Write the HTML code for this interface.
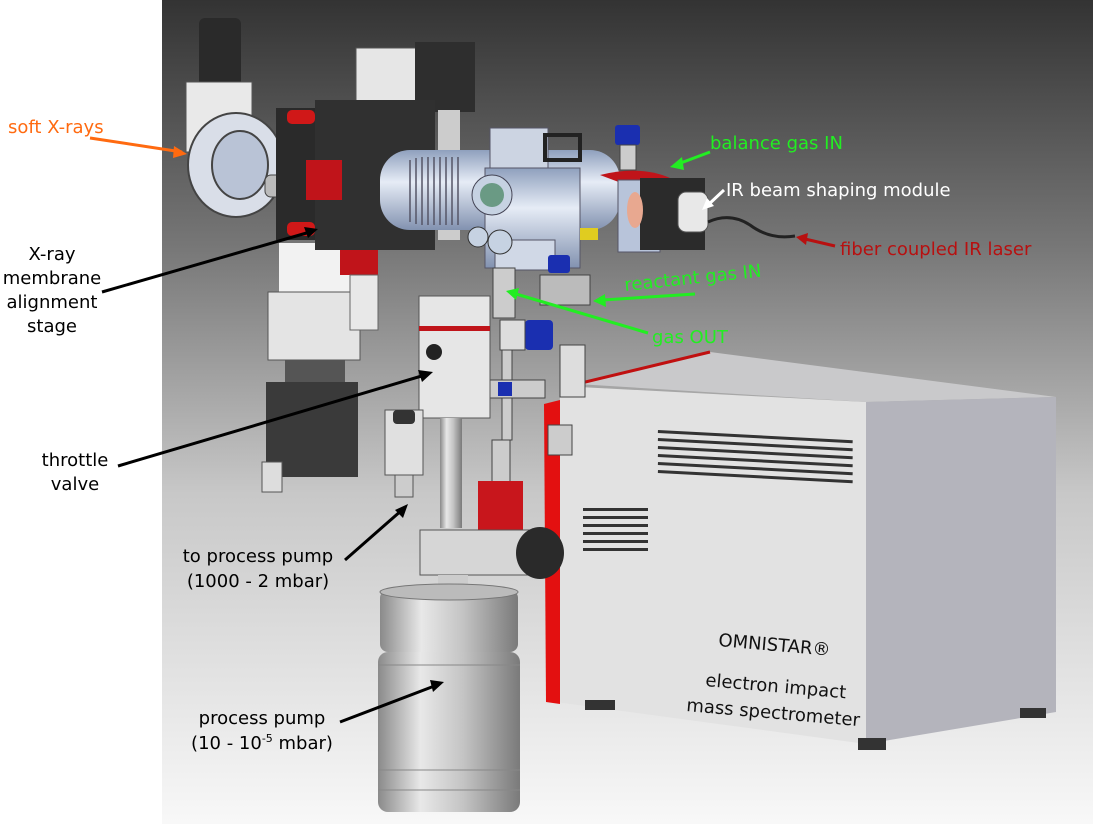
<!DOCTYPE html>
<html><head><meta charset="utf-8"><style>
html,body{margin:0;padding:0;background:#fff}
svg{display:block}
text{font-family:"DejaVu Sans","Liberation Sans",sans-serif;font-size:18px}
</style></head><body>
<svg width="1093" height="824" viewBox="0 0 1093 824" xmlns="http://www.w3.org/2000/svg">
<defs>
<linearGradient id="bg" x1="0" y1="0" x2="0" y2="1">
<stop offset="0" stop-color="#333"/><stop offset="0.3" stop-color="#777"/><stop offset="0.6" stop-color="#c8c8c8"/><stop offset="1" stop-color="#f8f8f8"/></linearGradient>
<linearGradient id="cyl" x1="0" y1="0" x2="1" y2="0">
<stop offset="0" stop-color="#8a8a8a"/><stop offset="0.3" stop-color="#e8e8e8"/><stop offset="0.6" stop-color="#c4c4c4"/><stop offset="1" stop-color="#7a7a7a"/></linearGradient>
<linearGradient id="tube" x1="0" y1="0" x2="0" y2="1">
<stop offset="0" stop-color="#8fa0bd"/><stop offset="0.4" stop-color="#e6ecf6"/><stop offset="1" stop-color="#8292b0"/></linearGradient>
</defs>
<rect x="162" y="0" width="931" height="824" fill="url(#bg)"/>

<!-- mass spectrometer -->
<polygon points="577,384 710,352 1056,397 866,402" fill="#c9c9cb"/>
<polygon points="560,386 866,402 866,744 556,702" fill="#e2e2e2"/>
<polygon points="866,402 1056,397 1056,712 866,744" fill="#b4b4bc"/>
<polygon points="544,404 560,400 560,704 546,702" fill="#e31010"/>
<line x1="577" y1="384" x2="710" y2="352" stroke="#c01010" stroke-width="3"/>
<rect x="585" y="700" width="30" height="10" fill="#333"/><rect x="858" y="738" width="28" height="12" fill="#333"/><rect x="1020" y="708" width="26" height="10" fill="#333"/>
<g fill="#333">
<rect x="658" y="430" width="195" height="3" transform="rotate(3 658 430)"/><rect x="658" y="438" width="195" height="3" transform="rotate(3 658 438)"/><rect x="658" y="446" width="195" height="3" transform="rotate(3 658 446)"/><rect x="658" y="454" width="195" height="3" transform="rotate(3 658 454)"/><rect x="658" y="462" width="195" height="3" transform="rotate(3 658 462)"/><rect x="658" y="470" width="195" height="3" transform="rotate(3 658 470)"/>
<rect x="583" y="508" width="65" height="3"/><rect x="583" y="516" width="65" height="3"/><rect x="583" y="524" width="65" height="3"/><rect x="583" y="532" width="65" height="3"/><rect x="583" y="540" width="65" height="3"/><rect x="583" y="548" width="65" height="3"/>
</g>

<!-- left column & blocks -->
<rect x="279" y="243" width="77" height="60" fill="#f2f2f2"/>
<rect x="268" y="292" width="92" height="68" fill="#e4e4e4" stroke="#555"/>
<rect x="285" y="360" width="60" height="25" fill="#555"/>
<rect x="266" y="382" width="92" height="95" fill="#3a3a3a"/>
<rect x="262" y="462" width="20" height="30" fill="#ddd" stroke="#555"/>
<rect x="340" y="240" width="38" height="35" fill="#c0141a"/>
<rect x="350" y="275" width="28" height="55" fill="#e8e8e8" stroke="#666"/>

<rect x="356" y="48" width="90" height="60" fill="#e6e6e6" stroke="#555"/>
<rect x="415" y="42" width="60" height="70" fill="#2e2e2e"/>
<rect x="199" y="18" width="42" height="70" rx="6" fill="#2a2a2a"/>
<rect x="186" y="82" width="66" height="70" fill="#e9e9e9" stroke="#555"/>
<ellipse cx="236" cy="165" rx="48" ry="52" fill="#d9dee8" stroke="#444" stroke-width="2"/>
<ellipse cx="240" cy="165" rx="28" ry="34" fill="#b9c3d6" stroke="#444" stroke-width="2"/>
<rect x="265" y="175" width="45" height="22" rx="6" fill="#bbb" stroke="#444"/>
<rect x="276" y="108" width="45" height="132" fill="#2a2a2a"/>
<rect x="315" y="100" width="120" height="150" fill="#303030"/>
<rect x="306" y="160" width="36" height="40" fill="#c0141a"/>
<rect x="287" y="110" width="28" height="14" rx="5" fill="#d01818"/>
<rect x="287" y="222" width="28" height="14" rx="5" fill="#d01818"/>
<rect x="438" y="110" width="22" height="130" fill="#ccc"/>

<!-- chamber -->
<rect x="380" y="150" width="240" height="80" rx="30" fill="url(#tube)"/>
<g stroke="#556" stroke-width="1.5"><line x1="410" y1="160" x2="410" y2="222"/><line x1="416" y1="158" x2="416" y2="224"/><line x1="422" y1="157" x2="422" y2="225"/><line x1="428" y1="157" x2="428" y2="225"/><line x1="434" y1="157" x2="434" y2="225"/><line x1="440" y1="157" x2="440" y2="225"/><line x1="446" y1="157" x2="446" y2="225"/><line x1="452" y1="157" x2="452" y2="225"/><line x1="458" y1="157" x2="458" y2="225"/></g>
<rect x="490" y="128" width="58" height="40" fill="#ccd4e2" stroke="#556"/>
<rect x="485" y="168" width="95" height="100" fill="url(#tube)" stroke="#556"/>
<circle cx="492" cy="195" r="20" fill="#c6d2e2" stroke="#445"/><circle cx="492" cy="195" r="12" fill="#6a9a84"/>
<rect x="495" y="240" width="60" height="30" fill="#d0d8e6" stroke="#556"/>
<circle cx="500" cy="242" r="12" fill="#c6d2e2" stroke="#333"/><circle cx="478" cy="237" r="10" fill="#c6d2e2" stroke="#333"/>
<rect x="580" y="228" width="18" height="12" fill="#e0cc20"/>
<path d="M600,175 Q640,165 670,178 L640,190z" fill="#c0141a"/>
<rect x="618" y="180" width="42" height="72" fill="#b8c4da" stroke="#556"/>
<rect x="640" y="178" width="65" height="72" fill="#2b2b2b"/>
<rect x="678" y="192" width="30" height="40" rx="8" fill="#e8e8e8" stroke="#555"/>
<ellipse cx="635" cy="210" rx="8" ry="18" fill="#e8a890"/>
<path d="M708,222 Q730,212 750,225 Q770,240 795,236" fill="none" stroke="#222" stroke-width="3"/>
<rect x="615" y="125" width="25" height="20" rx="3" fill="#1a2fb0"/>
<rect x="620" y="145" width="16" height="25" fill="#ccc" stroke="#444"/>
<rect x="545" y="135" width="35" height="25" fill="none" stroke="#222" stroke-width="4"/>

<rect x="493" y="268" width="22" height="50" fill="#ccc" stroke="#444"/>
<rect x="548" y="255" width="22" height="18" rx="3" fill="#1a2fb0"/>
<rect x="540" y="275" width="50" height="30" fill="#bbb" stroke="#444"/>
<rect x="525" y="320" width="28" height="30" rx="4" fill="#1a2fb0"/>
<rect x="500" y="320" width="25" height="30" fill="#ddd" stroke="#444"/>
<rect x="560" y="345" width="25" height="52" fill="#ddd" stroke="#444"/>
<rect x="502" y="350" width="10" height="90" fill="#ccc" stroke="#444"/>
<rect x="485" y="380" width="60" height="18" fill="#ccc" stroke="#444"/>
<rect x="498" y="382" width="14" height="14" fill="#1a2fb0"/>
<rect x="419" y="296" width="71" height="122" fill="#e6e6e6" stroke="#555"/>
<rect x="419" y="326" width="71" height="5" fill="#c0141a"/>
<circle cx="434" cy="352" r="8" fill="#222"/>
<rect x="440" y="418" width="22" height="110" fill="url(#cyl)"/>
<rect x="385" y="410" width="38" height="65" fill="#e0e0e0" stroke="#555"/>
<rect x="393" y="410" width="22" height="14" rx="4" fill="#333"/>
<rect x="395" y="475" width="18" height="22" fill="#ccc" stroke="#555"/>
<rect x="492" y="440" width="18" height="45" fill="#ccc" stroke="#444"/>
<rect x="478" y="481" width="45" height="55" fill="#c8161c"/>
<rect x="548" y="425" width="24" height="30" fill="#ccc" stroke="#444"/>
<rect x="420" y="530" width="110" height="45" fill="#d6d6d6" stroke="#555"/>
<ellipse cx="540" cy="553" rx="24" ry="26" fill="#2a2a2a"/>
<rect x="438" y="575" width="30" height="20" fill="#ccc"/>
<rect x="380" y="590" width="138" height="62" rx="8" fill="url(#cyl)"/>
<ellipse cx="449" cy="592" rx="69" ry="8" fill="#bbb" stroke="#777"/>
<rect x="378" y="652" width="142" height="160" rx="10" fill="url(#cyl)"/>
<line x1="378" y1="665" x2="520" y2="665" stroke="#888"/><line x1="378" y1="770" x2="520" y2="770" stroke="#888"/><line x1="378" y1="790" x2="520" y2="790" stroke="#888"/>

<!-- labels -->
<text x="8" y="133" fill="#ff6a10" font-size="19">soft X-rays</text>
<line x1="90" y1="138" x2="182" y2="152" stroke="#ff6a10" stroke-width="3"/><path d="M187,154 L174,146 L173,158z" fill="#ff6a10"/>
<g fill="#000" text-anchor="middle" font-size="17"><text x="52" y="260">X-ray</text><text x="52" y="284">membrane</text><text x="52" y="308">alignment</text><text x="52" y="332">stage</text>
<text x="75" y="466">throttle</text><text x="75" y="490">valve</text></g>
<g fill="#000" text-anchor="middle"><text x="258" y="562">to process pump</text><text x="258" y="587">(1000 - 2 mbar)</text>
<text x="262" y="724">process pump</text><text x="262" y="749">(10 - 10<tspan font-size="11" dy="-7">-5</tspan><tspan dy="7"> mbar)</tspan></text></g>
<g stroke="#000" stroke-width="3"><line x1="102" y1="292" x2="310" y2="232"/><line x1="118" y1="466" x2="425" y2="375"/><line x1="345" y1="560" x2="402" y2="510"/><line x1="340" y1="722" x2="437" y2="685"/></g>
<path d="M318,229 L304,227 L308,238z M433,372 L418,370 L422,382z M408,504 L395,510 L403,518z M444,682 L430,680 L433,692z" fill="#000"/>
<text x="710" y="149" fill="#22ee22">balance gas IN</text>
<line x1="710" y1="152" x2="678" y2="164" stroke="#22ee22" stroke-width="3"/><path d="M670,167 L682,157 L684,170z" fill="#22ee22"/>
<text x="726" y="196" fill="#fff">IR beam shaping module</text>
<line x1="724" y1="190" x2="708" y2="205" stroke="#fff" stroke-width="3"/><path d="M702,210 L707,198 L714,206z" fill="#fff"/>
<text x="840" y="255" fill="#b81010">fiber coupled IR laser</text>
<line x1="835" y1="246" x2="805" y2="239" stroke="#b81010" stroke-width="3"/><path d="M796,237 L808,233 L806,245z" fill="#b81010"/>
<text x="625" y="291" fill="#22ee22" transform="rotate(-6 625 291)">reactant gas IN</text>
<line x1="695" y1="294" x2="603" y2="300" stroke="#22ee22" stroke-width="3"/><path d="M593,301 L605,294 L606,307z" fill="#22ee22"/>
<text x="652" y="343" fill="#22ee22">gas OUT</text>
<line x1="648" y1="333" x2="516" y2="294" stroke="#22ee22" stroke-width="3"/><path d="M506,291 L519,288 L516,300z" fill="#22ee22"/>
<g fill="#111" font-size="19"><text x="718" y="646" transform="rotate(5 718 646)">OMNISTAR®</text>
<text x="705" y="686" transform="rotate(5 705 686)">electron impact</text>
<text x="686" y="711" transform="rotate(5 686 711)">mass spectrometer</text></g>
</svg>
</body></html>
